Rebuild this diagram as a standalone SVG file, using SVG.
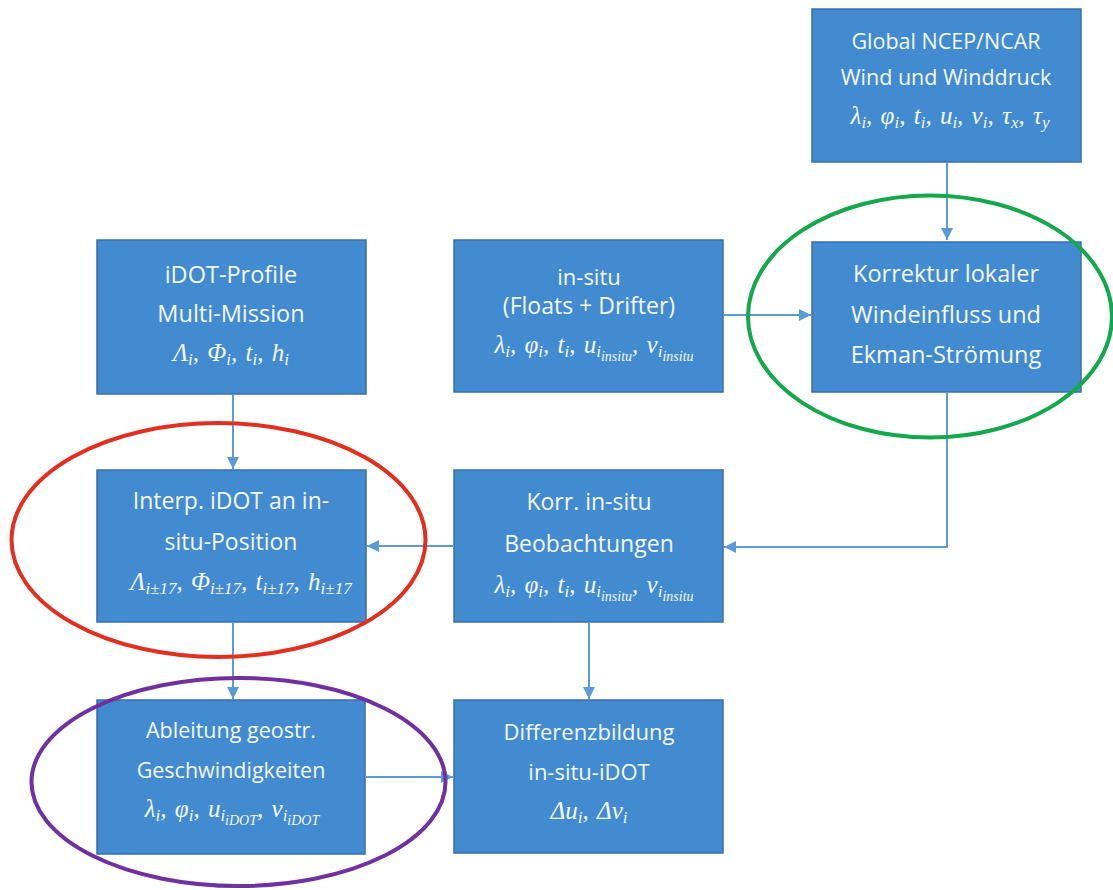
<svg xmlns="http://www.w3.org/2000/svg" width="1113" height="890" viewBox="0 0 1113 890">
<style>
.box{fill:#428bd0;stroke:#3a6fa6;stroke-width:1.5}
.t{font-family:"Open Sans","Liberation Sans",sans-serif;fill:#f4f7fb;text-anchor:middle}
.m{font-family:"Liberation Serif","DejaVu Serif",serif;font-style:italic;fill:#f4f7fb;text-anchor:middle;font-size:25px;word-spacing:2px}
.s{font-size:17px}
.ss{font-size:14px}
.c{fill:none;stroke:#5b9bd5;stroke-width:2}
.e{fill:none;stroke-width:4}
</style>
<defs>
<marker id="a" markerUnits="userSpaceOnUse" markerWidth="13" markerHeight="12" refX="12" refY="6" orient="auto">
<path d="M0,0 L12,6 L0,12 z" fill="#5b9bd5"/>
</marker>
</defs>
<rect width="1113" height="890" fill="#ffffff"/>

<g id="n-global">
<rect class="box" x="812" y="9" width="269" height="153"/>
<text class="t" x="946" y="49" font-size="21.5">Global NCEP/NCAR</text>
<text class="t" x="946" y="85" font-size="21.5">Wind und Winddruck</text>
<text class="m" x="950" y="124">λ<tspan class="s" dy="4">i</tspan><tspan dy="-4">, φ</tspan><tspan class="s" dy="4">i</tspan><tspan dy="-4">, t</tspan><tspan class="s" dy="4">i</tspan><tspan dy="-4">, u</tspan><tspan class="s" dy="4">i</tspan><tspan dy="-4">, v</tspan><tspan class="s" dy="4">i</tspan><tspan dy="-4">, τ</tspan><tspan class="s" dy="4">x</tspan><tspan dy="-4">, τ</tspan><tspan class="s" dy="4">y</tspan></text>
</g>

<g id="n-idot">
<rect class="box" x="97" y="240" width="269" height="154"/>
<text class="t" x="231" y="283" font-size="23.5">iDOT-Profile</text>
<text class="t" x="231" y="322" font-size="23.5">Multi-Mission</text>
<text class="m" x="231" y="361" font-size="26">Λ<tspan class="s" dy="4">i</tspan><tspan dy="-4">, Φ</tspan><tspan class="s" dy="4">i</tspan><tspan dy="-4">, t</tspan><tspan class="s" dy="4">i</tspan><tspan dy="-4">, h</tspan><tspan class="s" dy="4">i</tspan></text>
</g>

<g id="n-insitu">
<rect class="box" x="454" y="240" width="269" height="152"/>
<text class="t" x="589" y="285" font-size="22">in-situ</text>
<text class="t" x="589" y="314" font-size="23">(Floats + Drifter)</text>
<text class="m" x="594" y="353">λ<tspan class="s" dy="4">i</tspan><tspan dy="-4">, φ</tspan><tspan class="s" dy="4">i</tspan><tspan dy="-4">, t</tspan><tspan class="s" dy="4">i</tspan><tspan dy="-4">, u</tspan><tspan class="s" dy="4">i</tspan><tspan class="ss" dy="4">insitu</tspan><tspan dy="-8">, v</tspan><tspan class="s" dy="4">i</tspan><tspan class="ss" dy="4">insitu</tspan></text>
</g>

<g id="n-korrektur">
<rect class="box" x="812" y="242" width="269" height="150"/>
<text class="t" x="946" y="282" font-size="23.5">Korrektur lokaler</text>
<text class="t" x="946" y="323" font-size="23.5">Windeinfluss und</text>
<text class="t" x="946" y="363" font-size="23.5">Ekman-Strömung</text>
</g>

<g id="n-interp">
<rect class="box" x="97" y="470" width="269" height="152"/>
<text class="t" x="231" y="509" font-size="23">Interp. iDOT an in-</text>
<text class="t" x="231" y="550" font-size="23">situ-Position</text>
<text class="m" x="241" y="590" font-size="24">Λ<tspan class="s" dy="4">i±17</tspan><tspan dy="-4">, Φ</tspan><tspan class="s" dy="4">i±17</tspan><tspan dy="-4">, t</tspan><tspan class="s" dy="4">i±17</tspan><tspan dy="-4">, h</tspan><tspan class="s" dy="4">i±17</tspan></text>
</g>

<g id="n-korr-insitu">
<rect class="box" x="454" y="470" width="269" height="152"/>
<text class="t" x="589" y="510" font-size="23">Korr. in-situ</text>
<text class="t" x="589" y="552" font-size="23">Beobachtungen</text>
<text class="m" x="594" y="593">λ<tspan class="s" dy="4">i</tspan><tspan dy="-4">, φ</tspan><tspan class="s" dy="4">i</tspan><tspan dy="-4">, t</tspan><tspan class="s" dy="4">i</tspan><tspan dy="-4">, u</tspan><tspan class="s" dy="4">i</tspan><tspan class="ss" dy="4">insitu</tspan><tspan dy="-8">, v</tspan><tspan class="s" dy="4">i</tspan><tspan class="ss" dy="4">insitu</tspan></text>
</g>

<g id="n-ableitung">
<rect class="box" x="97" y="700" width="268" height="154"/>
<text class="t" x="231" y="738" font-size="21.5">Ableitung geostr.</text>
<text class="t" x="231" y="778" font-size="21.5">Geschwindigkeiten</text>
<text class="m" x="232" y="817">λ<tspan class="s" dy="4">i</tspan><tspan dy="-4">, φ</tspan><tspan class="s" dy="4">i</tspan><tspan dy="-4">, u</tspan><tspan class="s" dy="4">i</tspan><tspan class="ss" dy="4">iDOT</tspan><tspan dy="-8">, v</tspan><tspan class="s" dy="4">i</tspan><tspan class="ss" dy="4">iDOT</tspan></text>
</g>

<g id="n-differenz">
<rect class="box" x="454" y="700" width="269" height="153"/>
<text class="t" x="589" y="740" font-size="22">Differenzbildung</text>
<text class="t" x="589" y="780" font-size="22">in-situ-iDOT</text>
<text class="m" x="589" y="819">Δu<tspan class="s" dy="4">i</tspan><tspan dy="-4">, Δv</tspan><tspan class="s" dy="4">i</tspan></text>
</g>

<g id="connectors">
<path class="c" d="M947,162 V240" marker-end="url(#a)"/>
<path class="c" d="M723,315 H811" marker-end="url(#a)"/>
<path class="c" d="M947,392 V547 H724" marker-end="url(#a)"/>
<path class="c" d="M233,394 V469" marker-end="url(#a)"/>
<path class="c" d="M454,546 H367" marker-end="url(#a)"/>
<path class="c" d="M233,622 V699" marker-end="url(#a)"/>
<path class="c" d="M589,622 V699" marker-end="url(#a)"/>
<path class="c" d="M365,777 H453" marker-end="url(#a)"/>
</g>

<g id="highlights">
<ellipse class="e" cx="930" cy="316.5" rx="182" ry="121" stroke="#12a84b"/>
<ellipse class="e" cx="218.5" cy="540" rx="207" ry="117" stroke="#e1301f"/>
<ellipse class="e" cx="238.5" cy="782" rx="207" ry="104" stroke="#7030a0"/>
</g>
</svg>
